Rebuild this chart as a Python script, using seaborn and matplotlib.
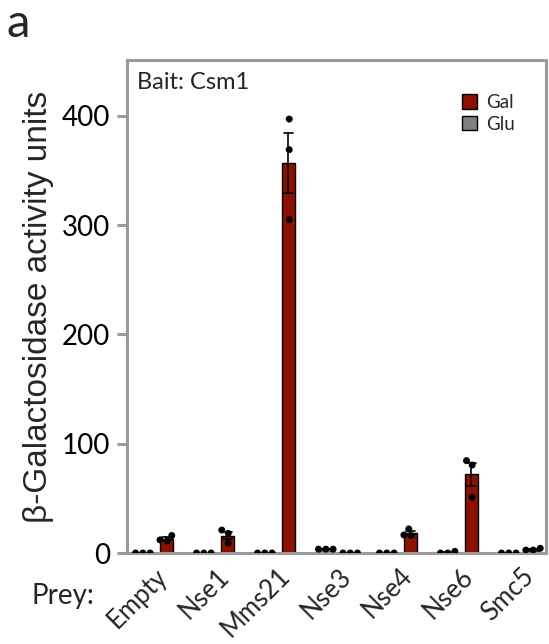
import numpy as np
import pandas as pd
import matplotlib
matplotlib.use("Agg")
import matplotlib.pyplot as plt
import matplotlib.transforms as mtransforms
import seaborn as sns

categories = ["Empty", "Nse1", "Mms21", "Nse3", "Nse4", "Nse6", "Smc5"]
conditions = ["Glu", "Gal"]
legend_order = ["Gal", "Glu"]
gal_reps = [[16, 11, 12], [21, 18, 9], [397, 369, 305], [0, 0, 0],
            [22, 16, 16.5], [84.5, 80.5, 51], [4.3, 2.7, 2.7]]
glu_reps = [[0, 0, 0], [0, 0, 0], [0, 0, 0], [3.5, 3.5, 3.5],
            [0, 0, 0], [0, 1.5, 0], [0, 0, 0]]
yticks = [0, 100, 200, 300, 400]

rows = []
for cat, g, u in zip(categories, gal_reps, glu_reps):
    for v in u:
        rows.append((cat, "Glu", v))
    for v in g:
        rows.append((cat, "Gal", v))
df = pd.DataFrame(rows, columns=["prey", "cond", "value"])

sns.set_style("white")
palette = {"Gal": "#8c1100", "Glu": "#808080"}
axcol = "#9a9a9a"

fig = plt.figure(figsize=(5.49, 6.44), dpi=100)
ax = fig.add_axes([0.2313, 0.1413, 0.9945 - 0.2313, 0.9068 - 0.1413])

sns.barplot(data=df, x="prey", y="value", hue="cond", hue_order=conditions,
            order=categories, palette=palette, errorbar="se", capsize=0.3,
            err_kws={"color": "black", "linewidth": 1.2}, width=0.75, gap=0.4,
            edgecolor="black", linewidth=1.0, saturation=1, ax=ax)
sns.swarmplot(data=df, x="prey", y="value", hue="cond", hue_order=conditions,
              order=categories, dodge=True, palette={"Gal": "black", "Glu": "black"},
              size=5, legend=False, ax=ax)

ax.set_ylim(0, 451)
ax.set_xlim(-0.46, 6.41)
ax.set_yticks(yticks)
ax.set_yticklabels([str(t) for t in yticks], fontsize=20, family="Lato")
ax.set_xticks(range(len(categories)))
ax.set_xticklabels(categories, rotation=45, ha="right", rotation_mode="anchor",
                   fontsize=18.5, family="Lato")
offset = mtransforms.ScaledTranslation(7 / 100, 0, fig.dpi_scale_trans)
for lab in ax.get_xticklabels():
    lab.set_transform(lab.get_transform() + offset)
ax.set_xlabel("")
ax.set_ylabel("β-Galactosidase activity units", fontsize=24, family="Liberation Sans",
              labelpad=6)
for s in ax.spines.values():
    s.set_visible(True)
    s.set_color(axcol)
    s.set_linewidth(2.2)
ax.tick_params(axis="y", colors=axcol, labelcolor="black", length=7, width=2.2,
               left=True, pad=5)
ax.tick_params(axis="x", length=0, pad=7.5)

h, l = ax.get_legend_handles_labels()
hd = dict(zip(l, h))
ax.legend([hd[k] for k in legend_order], legend_order, loc="upper right",
          frameon=False, handlelength=0.8, handleheight=0.8, handletextpad=0.45,
          labelspacing=0.25, bbox_to_anchor=(0.965, 0.965),
          prop={"family": "Lato", "size": 13.5})

ax.text(0.024, 0.975, "Bait: Csm1", transform=ax.transAxes, ha="left", va="top",
        fontsize=17, family="Lato")
fig.text(0.058, 0.075, "Prey:", fontsize=20, family="Lato", ha="left", va="center")
fig.text(0.012, 0.962, "a", fontsize=34, family="Lato", ha="left", va="center")

fig.savefig("out.png", dpi=100)
